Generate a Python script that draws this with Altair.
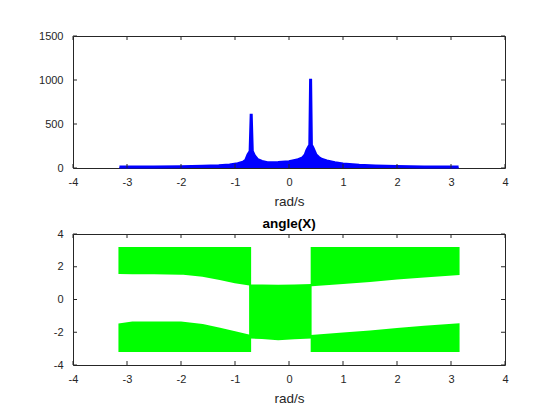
import altair as alt
import pandas as pd

# |X| envelope
mag_w = [-3.14, -2.5, -2.0, -1.6, -1.3, -1.1, -0.95, -0.85, -0.8, -0.76, -0.72, -0.70,
         -0.68, -0.64, -0.58, -0.5, -0.4, -0.2, 0.0, 0.15, 0.25, 0.3, 0.33, 0.36,
         0.385, 0.40, 0.415, 0.44, 0.5, 0.55, 0.6, 0.7, 0.85, 1.0, 1.3, 1.6, 2.0,
         2.5, 3.14]
mag_v = [10, 12, 15, 20, 27, 35, 48, 65, 90, 150, 190, 617,
         190, 140, 95, 75, 60, 62, 72, 90, 115, 150, 200, 235,
         260, 1015, 260, 235, 150, 120, 100, 80, 60, 45, 30, 22, 16,
         12, 10]

# angle(X): five solid bands (frequency, lower edge, upper edge)
band_a_w = [-3.14, -2.9, -2.5, -2.0, -1.6, -1.28, -1.0, -0.72]
band_a_lo = [1.62, 1.60, 1.60, 1.58, 1.45, 1.25, 1.05, 0.91]
band_a_hi = [3.14, 3.14, 3.14, 3.14, 3.14, 3.14, 3.14, 3.14]

band_b_w = [-3.14, -2.9, -2.5, -2.0, -1.6, -1.28, -1.0, -0.72]
band_b_lo = [-3.14, -3.14, -3.14, -3.14, -3.14, -3.14, -3.14, -3.14]
band_b_hi = [-1.52, -1.41, -1.40, -1.40, -1.55, -1.78, -2.0, -2.22]

band_c_w = [-0.72, -0.5, -0.2, 0.1, 0.40]
band_c_lo = [-2.32, -2.35, -2.42, -2.36, -2.32]
band_c_hi = [0.86, 0.86, 0.84, 0.86, 0.88]

band_d_w = [0.42, 1.0, 1.5, 2.0, 2.5, 3.14]
band_d_lo = [0.87, 1.0, 1.13, 1.28, 1.41, 1.56]
band_d_hi = [3.14, 3.14, 3.14, 3.14, 3.14, 3.14]

band_e_w = [0.42, 1.0, 1.5, 2.0, 2.5, 3.14]
band_e_lo = [-3.14, -3.14, -3.14, -3.14, -3.14, -3.14]
band_e_hi = [-2.22, -2.08, -1.95, -1.80, -1.66, -1.52]

x_ticks = [-4, -3, -2, -1, 0, 1, 2, 3, 4]
mag_ticks = [0, 500, 1000, 1500]
ang_ticks = [-4, -2, 0, 2, 4]

W, H1, H2 = 432, 132, 131
INK = "#262626"
BLUE = "#0000ff"
GREEN = "#00ff00"
PLAIN = "datum.value + ''"  # matlab prints 1500 and -4, not 1,500 / −4


def x_enc():
    return alt.X("w:Q", title="rad/s",
                 scale=alt.Scale(domain=[-4, 4], nice=False, zero=False),
                 axis=alt.Axis(values=x_ticks, labelExpr=PLAIN, labelFlush=False,
                               labelPadding=8, titlePadding=7))


def y_enc(field, domain, ticks):
    return alt.Y(field, title=None,
                 scale=alt.Scale(domain=domain, nice=False, zero=False),
                 axis=alt.Axis(values=ticks, labelExpr=PLAIN, labelFlush=False, labelPadding=10))


def inner_ticks(h, ydomain, yticks):
    # matlab-style ticks pointing into the box, on all four sides
    xt = alt.Chart(pd.DataFrame({"w": x_ticks}))
    yt = alt.Chart(pd.DataFrame({"v": yticks}))
    return [
        xt.mark_rule(color=INK).encode(x=x_enc(), y=alt.value(h), y2=alt.value(h - 4)),
        xt.mark_rule(color=INK).encode(x=x_enc(), y=alt.value(0), y2=alt.value(4)),
        yt.mark_rule(color=INK).encode(y=y_enc("v:Q", ydomain, yticks), x=alt.value(0), x2=alt.value(4)),
        yt.mark_rule(color=INK).encode(y=y_enc("v:Q", ydomain, yticks), x=alt.value(W), x2=alt.value(W - 4)),
    ]


mag_df = pd.DataFrame({"w": mag_w, "v": mag_v})
mag_base = alt.Chart(mag_df).encode(x=x_enc(), y=y_enc("v:Q", [0, 1500], mag_ticks))
top = alt.layer(
    mag_base.mark_area(color=BLUE, opacity=1),
    mag_base.mark_line(color=BLUE, strokeWidth=3),
    *inner_ticks(H1, [0, 1500], mag_ticks),
).properties(width=W, height=H1)

bands = [
    ("a", band_a_w, band_a_lo, band_a_hi),
    ("b", band_b_w, band_b_lo, band_b_hi),
    ("c", band_c_w, band_c_lo, band_c_hi),
    ("d", band_d_w, band_d_lo, band_d_hi),
    ("e", band_e_w, band_e_lo, band_e_hi),
]
ang_df = pd.concat([pd.DataFrame({"band": b, "w": w, "lo": lo, "hi": hi}) for b, w, lo, hi in bands])

ang = alt.Chart(ang_df).mark_area(color=GREEN, opacity=1, stroke=GREEN, strokeWidth=2).encode(
    x=x_enc(),
    y=y_enc("lo:Q", [-4, 4], ang_ticks).stack(False),
    y2="hi:Q",
    detail="band:N",
)
bottom = alt.layer(ang, *inner_ticks(H2, [-4, 4], ang_ticks)).properties(
    width=W, height=H2, title="angle(X)"
)

chart = (
    alt.vconcat(top, bottom, spacing=8)
    .properties(padding={"left": 30, "top": 21, "right": 0, "bottom": 0}, background="white")
    .configure_view(stroke=INK, strokeWidth=1)
    .configure_axis(domain=False, grid=False, ticks=False,
                    labelFont="Liberation Sans", labelFontSize=11, labelColor=INK,
                    titleFont="Liberation Sans", titleFontSize=13.5, titleFontWeight="normal",
                    titleColor=INK)
    .configure_title(font="Liberation Sans", fontSize=13.5, fontWeight="bold", color="black", offset=-2)
)

chart.save("out.html", embed_options={"renderer": "svg", "actions": False})
